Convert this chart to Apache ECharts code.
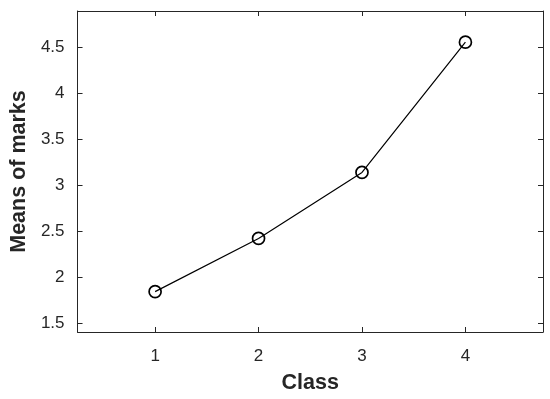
<!DOCTYPE html>
<html>
<head>
<meta charset="utf-8">
<script src="https://cdn.jsdelivr.net/npm/echarts@6/dist/echarts.min.js"></script>
<style>
html,body{margin:0;padding:0;background:#fff;}
#main{width:550px;height:399px;}
</style>
</head>
<body>
<div id="main"></div>
<script>
// data
var classes = [1, 2, 3, 4];
var means = [1.84, 2.42, 3.14, 4.56];
var xTicks = [1, 2, 3, 4];
var yTicks = [1.5, 2, 2.5, 3, 3.5, 4, 4.5];

var axisColor = '#262626';
var points = classes.map(function(c, i){ return [c, means[i]]; });

var myChart = echarts.init(document.getElementById('main'));

var baseAxis = function(min, max, ticks){
    return {
        type: 'value',
        min: min,
        max: max,
        splitLine: {show: false},
        axisLine: {show: true, onZero: false, lineStyle: {color: axisColor, width: 1}},
        axisTick: {show: true, inside: true, length: 5, customValues: ticks, lineStyle: {color: axisColor}},
        axisLabel: {show: true, customValues: ticks, color: axisColor, fontFamily: 'Liberation Sans, Arial', fontSize: 17}
    };
};

var xBottom = baseAxis(0.25, 4.75, xTicks);
xBottom.position = 'bottom';
xBottom.name = 'Class';
xBottom.nameLocation = 'middle';
xBottom.nameGap = 40;
xBottom.nameTextStyle = {color: axisColor, fontFamily: 'Liberation Sans, Arial', fontSize: 21.5, fontWeight: 'bold'};
xBottom.axisLabel.margin = 16;

var xTop = baseAxis(0.25, 4.75, xTicks);
xTop.position = 'top';
xTop.axisLabel.show = false;

var yLeft = baseAxis(1.4, 4.9, yTicks);
yLeft.position = 'left';
yLeft.name = 'Means of marks';
yLeft.nameLocation = 'middle';
yLeft.nameGap = 47;
yLeft.nameTextStyle = {color: axisColor, fontFamily: 'Liberation Sans, Arial', fontSize: 21.5, fontWeight: 'bold'};
yLeft.axisLabel.margin = 13;

var yRight = baseAxis(1.4, 4.9, yTicks);
yRight.position = 'right';
yRight.axisLabel.show = false;

var option = {
    animation: false,
    backgroundColor: '#fff',
    grid: {left: 76, top: 11, right: 7, bottom: 67},
    xAxis: [xBottom, xTop],
    yAxis: [yLeft, yRight],
    series: [{
        type: 'line',
        data: points,
        xAxisIndex: 0,
        yAxisIndex: 0,
        symbol: 'circle',
        symbolSize: 12,
        showSymbol: true,
        lineStyle: {color: '#000', width: 1.2},
        itemStyle: {color: 'rgba(255,255,255,0)', borderColor: '#000', borderWidth: 1.7}
    }]
};
myChart.setOption(option);
</script>
</body>
</html>
